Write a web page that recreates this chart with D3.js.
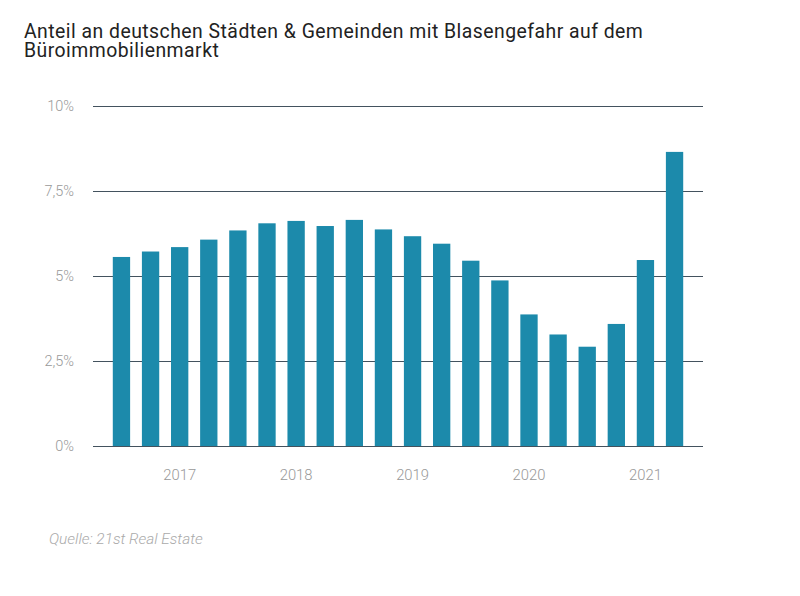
<!DOCTYPE html>
<html>
<head>
<meta charset="utf-8">
<script src="https://cdn.jsdelivr.net/npm/d3@7"></script>
<style>
  html, body { margin: 0; padding: 0; background: #fff; }
  svg { display: block; font-family: Roboto, "Noto Sans", sans-serif; }
</style>
</head>
<body>
<script>
const titleLines = ["Anteil an deutschen Städten & Gemeinden mit Blasengefahr auf dem", "Büroimmobilienmarkt"];
const source = "Quelle: 21st Real Estate";
const categories = ["2016-Q3","2016-Q4","2017-Q1","2017-Q2","2017-Q3","2017-Q4","2018-Q1","2018-Q2","2018-Q3","2018-Q4","2019-Q1","2019-Q2","2019-Q3","2019-Q4","2020-Q1","2020-Q2","2020-Q3","2020-Q4","2021-Q1","2021-Q2"];
const values = [5.56, 5.72, 5.85, 6.07, 6.34, 6.55, 6.62, 6.47, 6.65, 6.37, 6.17, 5.95, 5.45, 4.87, 3.87, 3.28, 2.92, 3.59, 5.47, 8.65];
const yTicks = [0, 2.5, 5, 7.5, 10];
const yTickLabels = ["0%", "2,5%", "5%", "7,5%", "10%"];
const xTickCats = ["2017-Q1","2018-Q1","2019-Q1","2020-Q1","2021-Q1"];
const xTickLabels = ["2017","2018","2019","2020","2021"];

const W = 800, H = 596;
const margin = {left: 93, right: 97, top: 106, bottom: 150};

const svg = d3.select("body").append("svg").attr("width", W).attr("height", H);

const x = d3.scaleBand().domain(categories).range([margin.left, W - margin.right])
  .paddingInner(0.405).paddingOuter(0.68);
const y = d3.scaleLinear().domain([0, 10]).range([H - margin.bottom, margin.top]);

// Title
const title = svg.append("text").attr("x", 24).attr("y", 38)
  .attr("fill", "#222").style("font-size", "19.4px").style("letter-spacing", "0.47px")
  .style("font-weight", 400);
titleLines.forEach((t, i) => title.append("tspan").attr("x", 24).attr("dy", i === 0 ? 0 : 19).text(t));

// Y axis / gridlines
const yAxis = d3.axisLeft(y).tickValues(yTicks)
  .tickFormat((d, i) => yTickLabels[i])
  .tickSize(-(W - margin.left - margin.right)).tickPadding(19);
const gy = svg.append("g").attr("transform", `translate(${margin.left},0)`).call(yAxis);
gy.select(".domain").remove();
gy.selectAll(".tick line").attr("stroke", "#43525e").attr("stroke-width", 1.2);
gy.selectAll(".tick text").attr("fill", "#999").style("font-size", "14.5px")
  .style("font-weight", 300).style("font-family", "Roboto, sans-serif");

// Bars
svg.append("g").selectAll("rect").data(values).join("rect")
  .attr("x", (d, i) => x(categories[i]))
  .attr("width", x.bandwidth())
  .attr("y", d => y(d))
  .attr("height", d => y(0) - y(d))
  .attr("fill", "#1c8aab");

// X axis labels
const xAxis = d3.axisBottom(x).tickValues(xTickCats)
  .tickFormat((d, i) => xTickLabels[i]).tickSize(0).tickPadding(23);
const gx = svg.append("g").attr("transform", `translate(0,${y(0)})`).call(xAxis);
gx.select(".domain").remove();
gx.selectAll(".tick text").attr("fill", "#999").style("font-size", "14.8px")
  .style("font-weight", 300).style("font-family", "Roboto, sans-serif");

// Source
svg.append("text").attr("x", 49).attr("y", 543.5).text(source)
  .attr("fill", "#aaa").style("font-size", "15.4px").style("font-style", "italic")
  .style("font-weight", 300);
</script>
</body>
</html>
